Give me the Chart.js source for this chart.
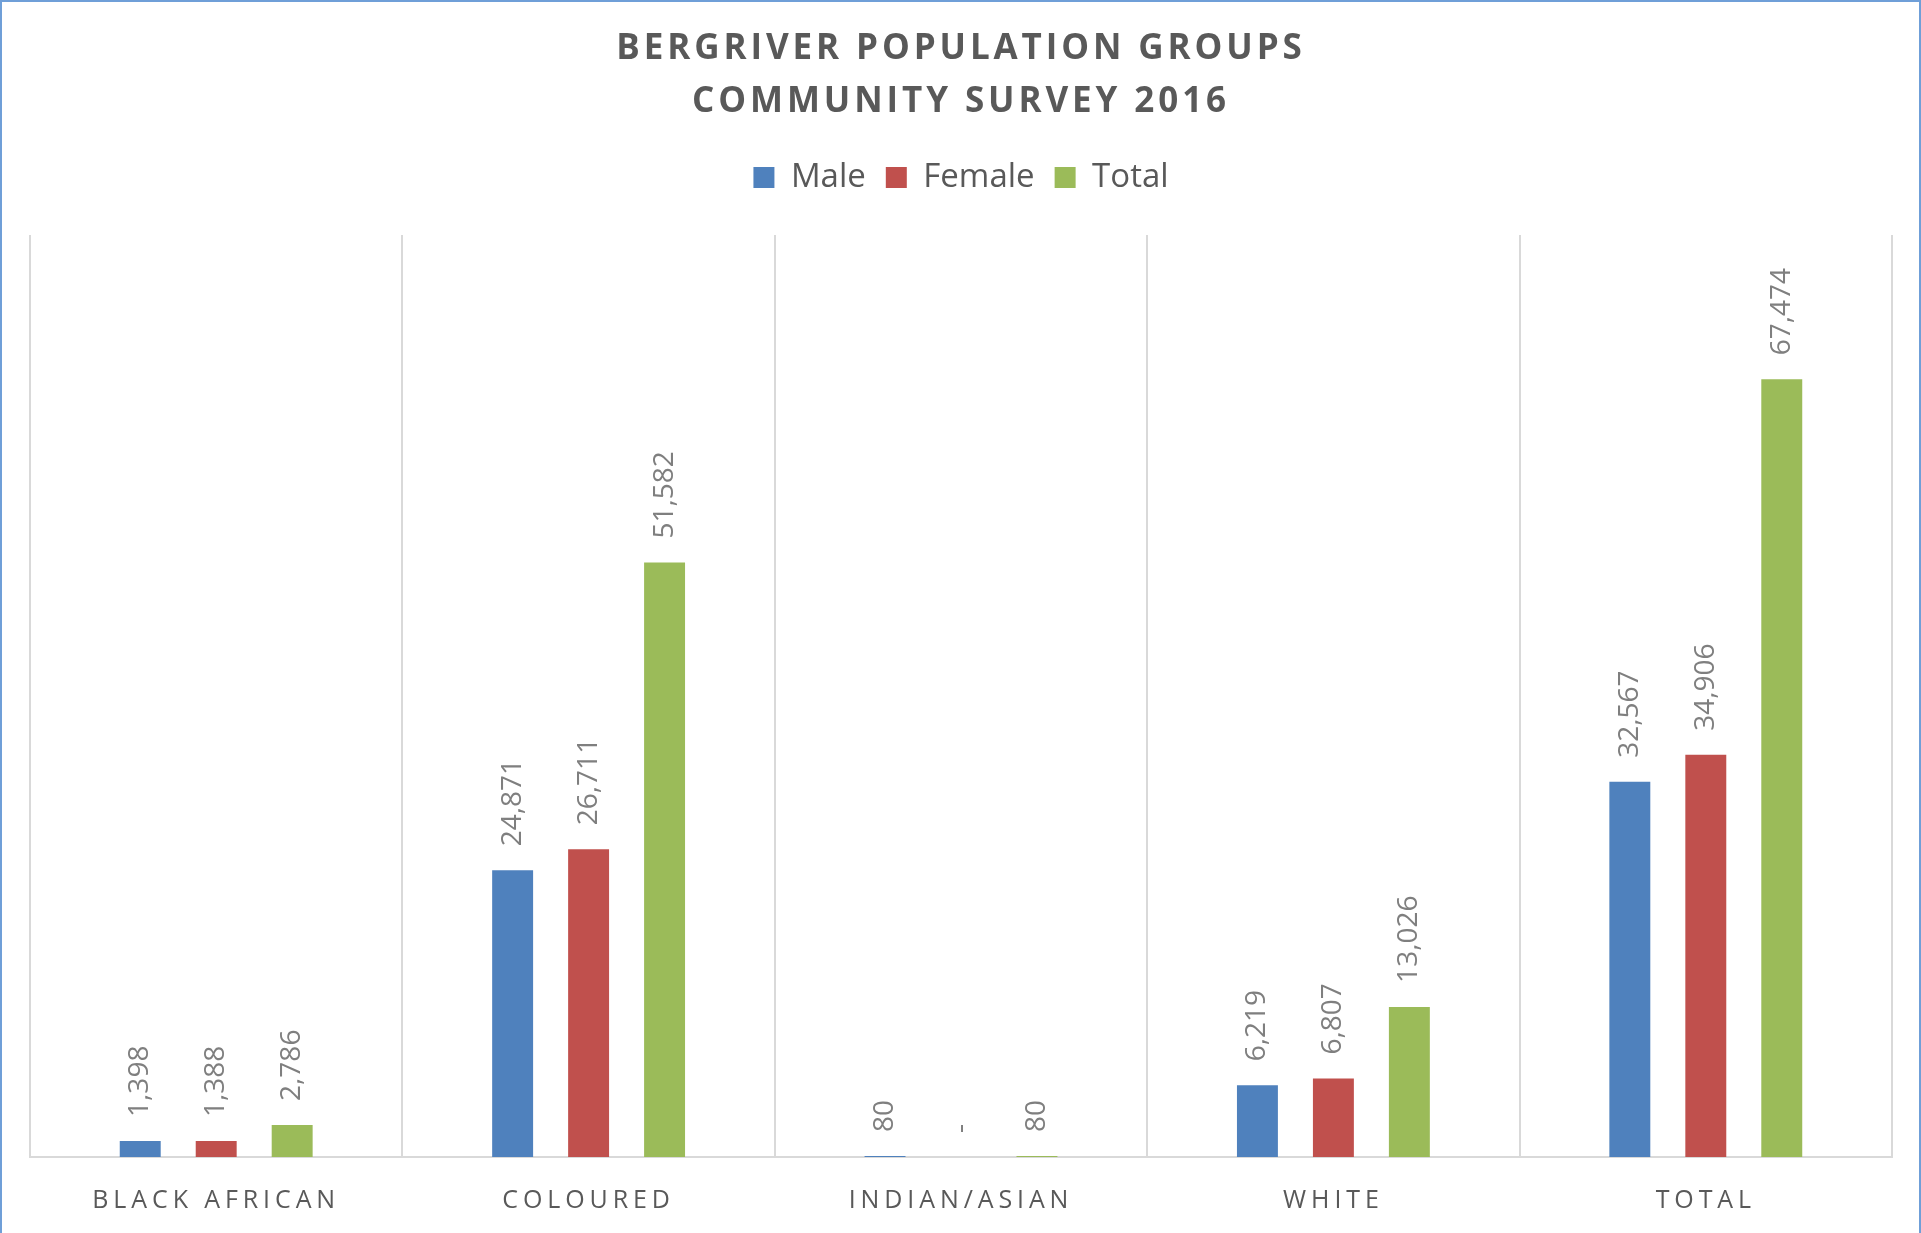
<!DOCTYPE html>
<html>
<head>
<meta charset="utf-8">
<script src="https://cdn.jsdelivr.net/npm/chart.js@4/dist/chart.umd.min.js"></script>
<style>
  html, body { margin: 0; padding: 0; background: #ffffff; overflow: hidden; }
  #wrap { position: relative; width: 1921px; height: 1233px; }
  #frame { position: absolute; left: 0; top: 0; width: 1921px; height: 1233px; box-sizing: border-box;
           border: 2px solid #6f9fd8; border-bottom: none; pointer-events: none; }
</style>
</head>
<body>
<div id="wrap">
  <canvas id="c" width="1921" height="1233"></canvas>
  <div id="frame"></div>
</div>
<script>
const titleLines = ['BERGRIVER POPULATION GROUPS', 'COMMUNITY SURVEY 2016'];
const categories = ['BLACK AFRICAN', 'COLOURED', 'INDIAN/ASIAN', 'WHITE', 'TOTAL'];
const seriesNames = ['Male', 'Female', 'Total'];
const maleValues   = [1398, 24871, 80, 6219, 32567];
const femaleValues = [1388, 26711, 0, 6807, 34906];
const totalValues  = [2786, 51582, 80, 13026, 67474];
const seriesColors = ['#4f81bd', '#c0504d', '#9bbb59'];
const yMax = 80000;

const TEXT_COLOR = '#595959';
const LABEL_COLOR = '#7f7f7f';
const FONT = '"Open Sans", "Noto Sans", sans-serif';

const spacingPlugin = {
  id: 'spacing',
  beforeDraw(chart) {
    const tb = chart.titleBlock;
    if (tb && !tb._sp) {
      const d = tb.draw.bind(tb);
      tb.draw = function (a) { const c = chart.ctx; const o = c.letterSpacing; c.letterSpacing = '3.9px'; d(a); c.letterSpacing = o || '0px'; };
      tb._sp = true;
    }
    const xs = chart.scales.x;
    if (xs && !xs._sp) {
      const dl = xs.drawLabels.bind(xs);
      xs.drawLabels = function (a) { const c = chart.ctx; const o = c.letterSpacing; c.letterSpacing = '4.9px'; dl(a); c.letterSpacing = o || '0px'; };
      xs._sp = true;
    }
  }
};

const valueLabelPlugin = {
  id: 'valueLabels',
  afterDatasetsDraw(chart) {
    const ctx = chart.ctx;
    chart.data.datasets.forEach((ds, i) => {
      chart.getDatasetMeta(i).data.forEach((bar, j) => {
        const v = ds.data[j];
        const txt = v === 0 ? '-' : v.toLocaleString('en-US');
        ctx.save();
        ctx.translate(bar.x, bar.y - 24);
        ctx.rotate(-Math.PI / 2);
        ctx.textAlign = 'left';
        ctx.textBaseline = 'middle';
        ctx.font = '28px ' + FONT;
        ctx.fillStyle = LABEL_COLOR;
        ctx.fillText(txt, 0, 0);
        ctx.restore();
      });
    });
  }
};

const values = [maleValues, femaleValues, totalValues];
new Chart(document.getElementById('c'), {
  type: 'bar',
  data: {
    labels: categories,
    datasets: seriesNames.map((n, i) => ({
      label: n,
      data: values[i],
      backgroundColor: seriesColors[i],
      borderWidth: 0,
      categoryPercentage: 0.612,
      barPercentage: 0.539
    }))
  },
  options: {
    responsive: false,
    animation: false,
    devicePixelRatio: 1,
    layout: { padding: { left: 30, right: 29, top: 0, bottom: 0 } },
    plugins: {
      title: {
        display: true,
        text: titleLines,
        color: TEXT_COLOR,
        font: { family: FONT, size: 35, weight: 'bold', lineHeight: 1.5 },
        padding: { top: 23, bottom: 13 }
      },
      legend: {
        display: true,
        position: 'top',
        labels: {
          color: TEXT_COLOR,
          font: { family: FONT, size: 33 },
          boxWidth: 21,
          boxHeight: 21,
          padding: 20
        }
      },
      tooltip: { enabled: false }
    },
    scales: {
      x: {
        grid: { display: true, color: '#d9d9d9', lineWidth: 2, drawTicks: false, offset: true },
        border: { display: true, color: '#d9d9d9', width: 2 },
        ticks: { color: TEXT_COLOR, font: { family: FONT, size: 25 }, padding: 29, maxRotation: 0, autoSkip: false },
        afterFit(s) { s.height = 76; }
      },
      x2: {
        type: 'category',
        position: 'top',
        labels: categories,
        grid: { display: false, drawTicks: false },
        border: { display: false },
        ticks: { display: false },
        afterFit(s) { s.height = 31; }
      },
      y: {
        display: false,
        min: 0,
        max: yMax
      }
    }
  },
  plugins: [spacingPlugin, valueLabelPlugin]
});
</script>
</body>
</html>
